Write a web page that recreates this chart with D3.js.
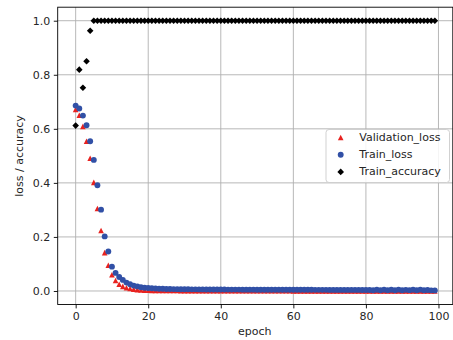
<!DOCTYPE html>
<html>
<head>
<meta charset="utf-8">
<script src="https://cdn.jsdelivr.net/npm/d3@7"></script>
<style>
  html, body { margin: 0; padding: 0; background: #fff; }
  svg { display: block; font-family: "DejaVu Sans", sans-serif; }
</style>
</head>
<body>
<svg id="chart" width="453" height="340"></svg>
<script>
// Per-epoch training history (100 epochs)
const epochs = d3.range(0, 100);

const validationLoss = [
  0.672, 0.650, 0.609, 0.554, 0.491, 0.402, 0.305, 0.224, 0.142, 0.095,
  0.060, 0.039, 0.025, 0.017, 0.012, 0.009, 0.007, 0.005, 0.004, 0.003,
  0.0026, 0.0024, 0.0022, 0.002, 0.0019, 0.0018, 0.0017, 0.0016, 0.0016, 0.0015,
  0.0015, 0.0014, 0.0014, 0.0014, 0.0013, 0.0013, 0.0013, 0.0012, 0.0012, 0.0012,
  0.0012, 0.0011, 0.0011, 0.0011, 0.0011, 0.0011, 0.0010, 0.0010, 0.0010, 0.0010,
  0.0010, 0.0010, 0.0009, 0.0009, 0.0009, 0.0009, 0.0009, 0.0009, 0.0009, 0.0008,
  0.0004, 0.0004, 0.0004, 0.0004, 0.0004, 0.0004, 0.0004, 0.0004, 0.0004, 0.0004,
  0.0004, 0.0004, 0.0004, 0.0004, 0.0004, 0.0003, 0.0003, 0.0003, 0.0003, 0.0003,
  0.0003, 0.0003, 0.0003, 0.0003, 0.0003, 0.0003, 0.0003, 0.0003, 0.0003, 0.0003,
  0.0003, 0.0003, 0.0003, 0.0003, 0.0003, 0.0003, 0.0003, 0.0003, 0.0003, 0.0003
];

const trainLoss = [
  0.686, 0.675, 0.649, 0.613, 0.554, 0.485, 0.391, 0.301, 0.202, 0.146,
  0.090, 0.067, 0.052, 0.041, 0.031, 0.025, 0.020, 0.017, 0.014, 0.012,
  0.011, 0.010, 0.009, 0.0085, 0.008, 0.0075, 0.0072, 0.007, 0.0068, 0.0066,
  0.0064, 0.0062, 0.0061, 0.006, 0.0059, 0.0058, 0.0057, 0.0056, 0.0055, 0.0054,
  0.0054, 0.0053, 0.0052, 0.0052, 0.0051, 0.0051, 0.005, 0.005, 0.0049, 0.0049,
  0.0048, 0.0048, 0.0047, 0.0047, 0.0047, 0.0046, 0.0046, 0.0046, 0.0045, 0.0045,
  0.0044, 0.0044, 0.0044, 0.0043, 0.0043, 0.0043, 0.0042, 0.0042, 0.0042, 0.0042,
  0.0041, 0.0041, 0.0041, 0.0041, 0.004, 0.004, 0.004, 0.004, 0.004, 0.0039,
  0.0039, 0.0039, 0.0025, 0.0045, 0.003, 0.0048, 0.0026, 0.0044, 0.0029, 0.005,
  0.0025, 0.0042, 0.0031, 0.0047, 0.0027, 0.0049, 0.0028, 0.0036, 0.0024, 0.0022
];

const trainAccuracy = [0.612, 0.819, 0.752, 0.850, 0.963].concat(d3.range(95).map(() => 1.0));

const xTicks = [0, 20, 40, 60, 80, 100];
const yTicks = [0.0, 0.2, 0.4, 0.6, 0.8, 1.0];

const seriesNames = ["Validation_loss", "Train_loss", "Train_accuracy"];
const seriesColors = ["#e8221f", "#3150a6", "#000000"];

// Marker shapes: upward triangle (equal width/height), circle, square rotated 45°
const triangleUp = {
  draw(ctx, size) {
    const h = Math.sqrt(size) / 2;
    ctx.moveTo(0, -h);
    ctx.lineTo(h, h);
    ctx.lineTo(-h, h);
    ctx.closePath();
  }
};
const diamond = {
  draw(ctx, size) {
    const r = Math.sqrt(size) / 2;
    ctx.moveTo(0, -r);
    ctx.lineTo(r, 0);
    ctx.lineTo(0, r);
    ctx.lineTo(-r, 0);
    ctx.closePath();
  }
};
const circle = {
  draw(ctx, size) {
    const r = Math.sqrt(size) / 2;
    ctx.moveTo(r, 0);
    ctx.arc(0, 0, r, 0, 2 * Math.PI);
  }
};
const seriesSymbols = [triangleUp, circle, diamond];
// size here = (marker extent)^2 in px
const symbolSize = [5.6 * 5.6, 5.9 * 5.9, 6.6 * 6.6];
const seriesData = [validationLoss, trainLoss, trainAccuracy];

// Plot area
const plot = { left: 57.7, top: 7.2, right: 452.8, bottom: 304.5 };

const x = d3.scaleLinear().domain([-4.95, 103.95]).range([plot.left, plot.right]);
const y = d3.scaleLinear().domain([-0.05, 1.05]).range([plot.bottom, plot.top]);

const svg = d3.select("#chart");
const fontSize = 11;

// Grid
const grid = svg.append("g").attr("stroke", "#b0b0b0").attr("stroke-width", 0.9);
grid.selectAll("line.gx").data(xTicks).join("line")
  .attr("x1", d => x(d)).attr("x2", d => x(d))
  .attr("y1", plot.top).attr("y2", plot.bottom);
grid.selectAll("line.gy").data(yTicks).join("line")
  .attr("y1", d => y(d)).attr("y2", d => y(d))
  .attr("x1", plot.left).attr("x2", plot.right);

// Axes
const xAxis = svg.append("g")
  .attr("transform", `translate(0,${plot.bottom})`)
  .call(d3.axisBottom(x).tickValues(xTicks).tickFormat(d3.format("d")).tickSize(3.9).tickSizeOuter(0));
const yAxis = svg.append("g")
  .attr("transform", `translate(${plot.left},0)`)
  .call(d3.axisLeft(y).tickValues(yTicks).tickFormat(d3.format(".1f")).tickSize(3.9).tickSizeOuter(0));

[xAxis, yAxis].forEach(a => {
  a.select(".domain").remove();
  a.selectAll(".tick line").attr("stroke", "#000").attr("stroke-width", 0.9);
  a.selectAll(".tick text")
    .attr("fill", "#262626")
    .style("font-family", "'DejaVu Sans', sans-serif")
    .style("font-size", fontSize + "px");
});
xAxis.selectAll(".tick text").attr("dy", "0.72em").attr("y", 7.5);
yAxis.selectAll(".tick text").attr("x", -7.5);

// Markers: drawn in series order, accuracy on top
seriesData.forEach((vals, i) => {
  const sym = d3.symbol().type(seriesSymbols[i]).size(symbolSize[i]);
  svg.append("g").selectAll("path").data(vals).join("path")
    .attr("d", sym)
    .attr("transform", (d, j) => `translate(${x(epochs[j])},${y(d)})`)
    .attr("fill", seriesColors[i]);
});

// Frame
svg.append("rect")
  .attr("x", plot.left).attr("y", plot.top)
  .attr("width", plot.right - plot.left).attr("height", plot.bottom - plot.top)
  .attr("fill", "none").attr("stroke", "#000").attr("stroke-width", 0.9);

// Axis titles
svg.append("text")
  .attr("x", (plot.left + plot.right) / 2 - 0.5).attr("y", 332)
  .attr("text-anchor", "middle").attr("dominant-baseline", "middle")
  .attr("fill", "#262626").style("font-size", fontSize + "px")
  .text("epoch");
svg.append("text")
  .attr("transform", `translate(20,156) rotate(-90)`)
  .attr("text-anchor", "middle").attr("dominant-baseline", "middle")
  .attr("fill", "#262626").style("font-size", fontSize + "px")
  .text("loss / accuracy");

// Legend
const legend = svg.append("g").attr("transform", "translate(326,129.5)");
legend.append("rect")
  .attr("width", 123.5).attr("height", 53).attr("rx", 3)
  .attr("fill", "#fff").attr("fill-opacity", 0.85)
  .attr("stroke", "#cccccc").attr("stroke-width", 0.9);
seriesNames.forEach((name, i) => {
  const rowY = 8 + i * 17.2;
  legend.append("path")
    .attr("d", d3.symbol().type(seriesSymbols[i]).size(symbolSize[i])())
    .attr("transform", `translate(14.7,${rowY})`)
    .attr("fill", seriesColors[i]);
  legend.append("text")
    .attr("x", 33.3).attr("y", rowY)
    .attr("dominant-baseline", "middle")
    .attr("fill", "#262626").style("font-size", fontSize + "px")
    .text(name);
});
</script>
</body>
</html>
